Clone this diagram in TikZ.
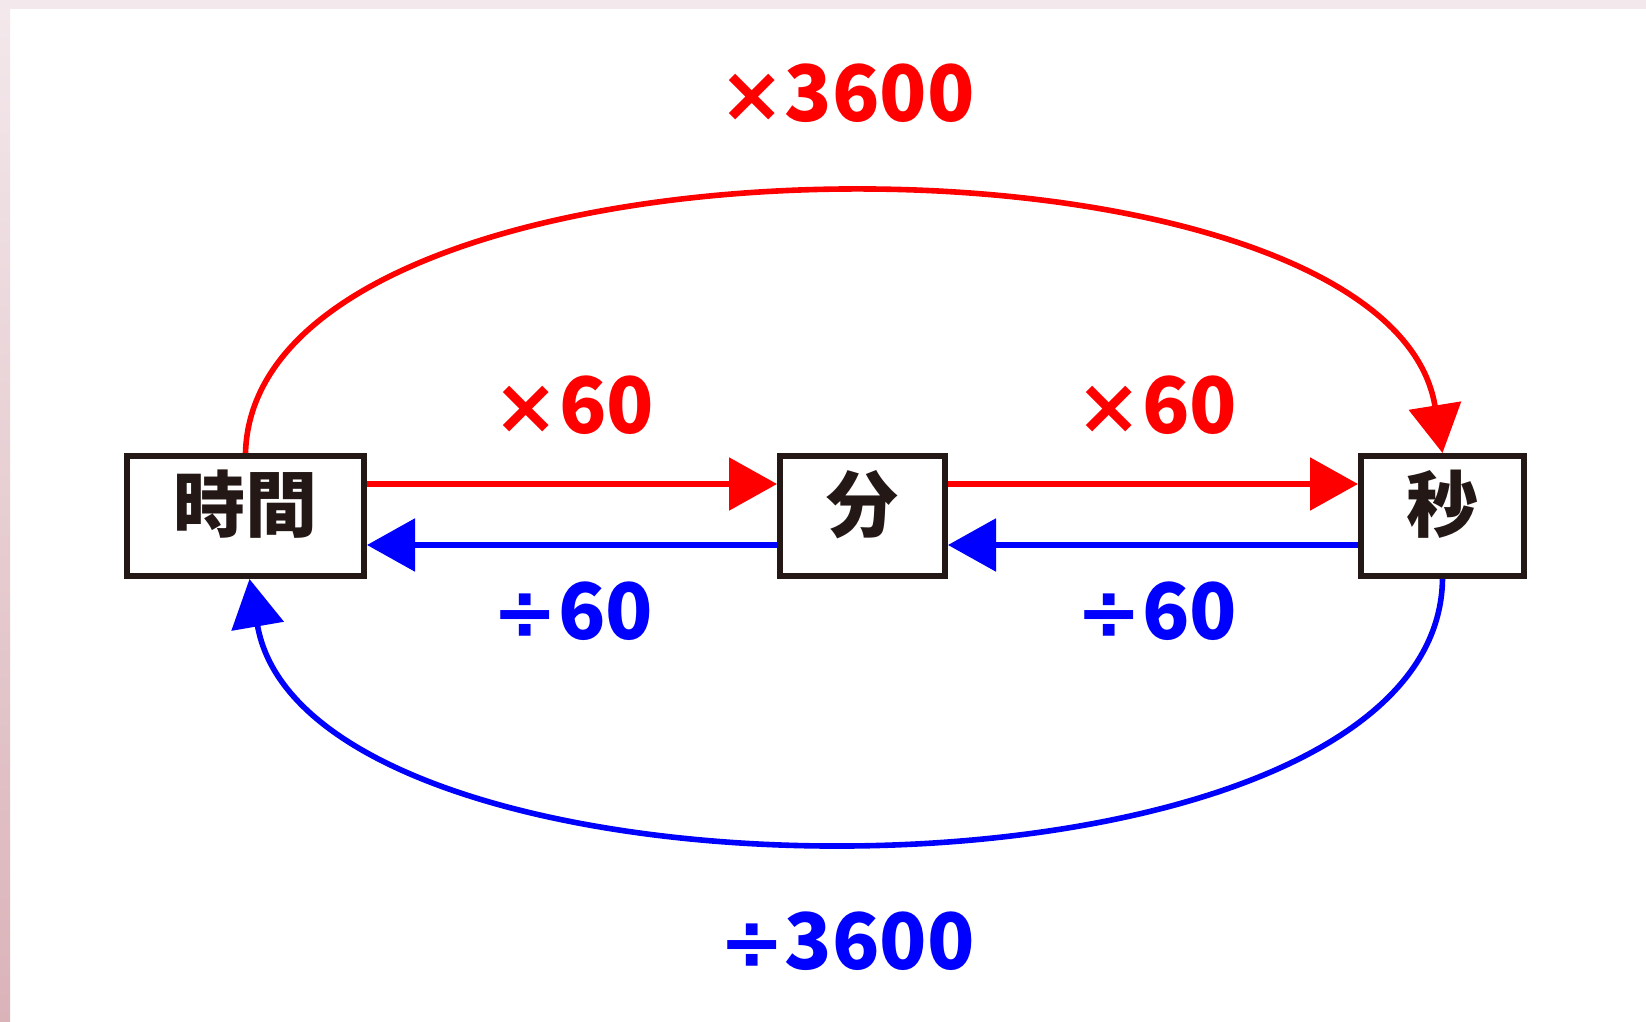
\documentclass[tikz,border=0pt]{standalone}
\usepackage{fontspec}
\usetikzlibrary{arrows.meta}
\newfontfamily\jpfont{Noto Sans CJK JP}
\newfontfamily\opfont{DejaVu Sans}
\definecolor{ink}{HTML}{231815}
\definecolor{edgelight}{HTML}{F3E8EB}
\definecolor{edgedeep}{HTML}{DAB3B9}

\begin{document}
\begin{tikzpicture}[x=0.5pt, y=-0.5pt,
    unit/.style={draw=ink, line width=3pt, inner sep=0pt, text=ink,
      text height=37.5pt, text depth=22.5pt,
      font=\jpfont\bfseries\fontsize{36}{36}\selectfont},
    factor/.style={inner sep=0pt, font=\jpfont\bfseries\fontsize{39}{39}\selectfont},
    conv/.style={line width=2.8pt, -{Triangle[length=24pt, width=26pt]}}]
    % page and pink edge
    \fill[white] (0,0) rectangle (1646,1022);
    \fill[edgelight] (0,0) rectangle (1646,9);
    \shade[top color=edgelight, bottom color=edgedeep] (0,9) rectangle (10,1022);
    % units
    \node[unit, minimum width=118.5pt] (H) at (245.5,516) {時間};
    \node[unit, minimum width=82.5pt] (M) at (862.5,516) {分};
    \node[unit, minimum width=81.5pt] (S) at (1442.5,516) {秒};
    % one step
    \draw[conv, red] ([yshift=16pt]H.east) -- ([yshift=16pt]M.west);
    \draw[conv, red] ([yshift=16pt]M.east) -- ([yshift=16pt]S.west);
    \draw[conv, blue] ([yshift=-14.5pt]S.west) -- ([yshift=-14.5pt]M.east);
    \draw[conv, blue] ([yshift=-14.5pt]M.west) -- ([yshift=-14.5pt]H.east);
    % two steps at once
    \draw[conv, red] (H.north) .. controls +(10,-344) and +(-55,-344) .. (S.north);
    \draw[conv, blue] (S.south) .. controls +(-5,348) and +(60,348) .. ([xshift=2pt]H.south);
    % factors
    \node[factor, red] (X_0) at (847,93) {{\opfont\bfseries ×}3600};
    \node[factor, red] (X_1) at (574,405) {{\opfont\bfseries ×}60};
    \node[factor, red] (X_2) at (1157,405) {{\opfont\bfseries ×}60};
    \node[factor, blue] (D_1) at (573,611) {{\opfont\bfseries ÷}60};
    \node[factor, blue] (D_2) at (1157,611) {{\opfont\bfseries ÷}60};
    \node[factor, blue] (D_0) at (847,941) {{\opfont\bfseries ÷}3600};
\end{tikzpicture}
\end{document}
